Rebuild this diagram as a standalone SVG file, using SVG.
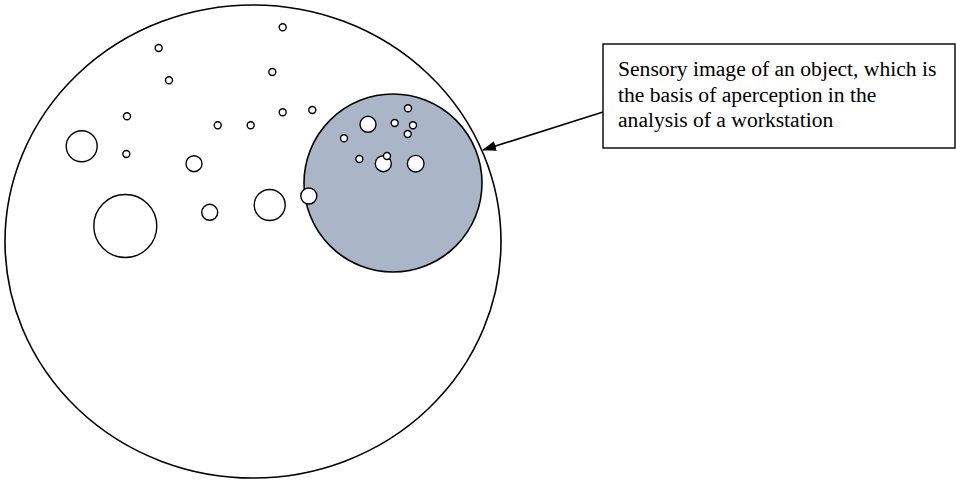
<svg xmlns="http://www.w3.org/2000/svg" width="956" height="480" viewBox="0 0 956 480">
<defs>
<style>
.o{fill:none;stroke:#000;stroke-width:1.6}
.s{fill:#fff;stroke:#000;stroke-width:1.4}
.t{font-family:"Liberation Serif","Times New Roman",serif;font-size:21.6px;fill:#000}
</style>
<marker id="ah" markerWidth="14" markerHeight="10" refX="13" refY="5" orient="auto" markerUnits="userSpaceOnUse">
<path d="M0,0 L14,5 L0,10 Z" fill="#000"/>
</marker>
</defs>
<g id="outer">
<ellipse class="o" cx="253" cy="241.5" rx="248" ry="236.5" fill="#fff"/>
</g>
<g id="inner">
<circle cx="393" cy="183" r="89" fill="#abb5c8" stroke="#000" stroke-width="1.6"/>
</g>
<g id="dots">
<circle class="s" cx="282.7" cy="27.3" r="3.5"/>
<circle class="s" cx="158.7" cy="48" r="3.5"/>
<circle class="s" cx="169" cy="80.3" r="3.5"/>
<circle class="s" cx="272.3" cy="72" r="3.5"/>
<circle class="s" cx="127" cy="116.3" r="3.5"/>
<circle class="s" cx="282.7" cy="112.3" r="3.5"/>
<circle class="s" cx="312.3" cy="110" r="3.5"/>
<circle class="s" cx="217.7" cy="125.3" r="3.5"/>
<circle class="s" cx="250.7" cy="125.3" r="3.5"/>
<circle class="s" cx="81.7" cy="146.3" r="15.5"/>
<circle class="s" cx="126.3" cy="154" r="3.5"/>
<circle class="s" cx="194" cy="163.7" r="8"/>
<circle class="s" cx="125.3" cy="226" r="31.5"/>
<circle class="s" cx="209.7" cy="212.3" r="8"/>
<circle class="s" cx="269.7" cy="205" r="15.5"/>
<circle class="s" cx="308.8" cy="196" r="8"/>
<circle class="s" cx="368" cy="124.3" r="8"/>
<circle class="s" cx="408" cy="108.3" r="3.5"/>
<circle class="s" cx="394.7" cy="123" r="3.5"/>
<circle class="s" cx="413" cy="125.3" r="3.5"/>
<circle class="s" cx="407.7" cy="134" r="3.5"/>
<circle class="s" cx="344" cy="138.3" r="3.5"/>
<circle class="s" cx="359.3" cy="159" r="3.5"/>
<circle class="s" cx="383.3" cy="163.7" r="8"/>
<circle class="s" cx="387" cy="156" r="3.5"/>
<circle class="s" cx="415.7" cy="163.7" r="8.3"/>
</g>
<g id="connectors">
<line x1="603" y1="112" x2="483" y2="150" stroke="#000" stroke-width="1.6" marker-end="url(#ah)"/>
</g>
<g id="label">
<rect x="603" y="44" width="352" height="104" fill="#fff" stroke="#000" stroke-width="1.4"/>
<text class="t" x="618" y="76">Sensory image of an object, which is</text>
<text class="t" x="618" y="101.5">the basis of aperception in the</text>
<text class="t" x="618" y="127">analysis of a workstation</text>
</g>
</svg>
